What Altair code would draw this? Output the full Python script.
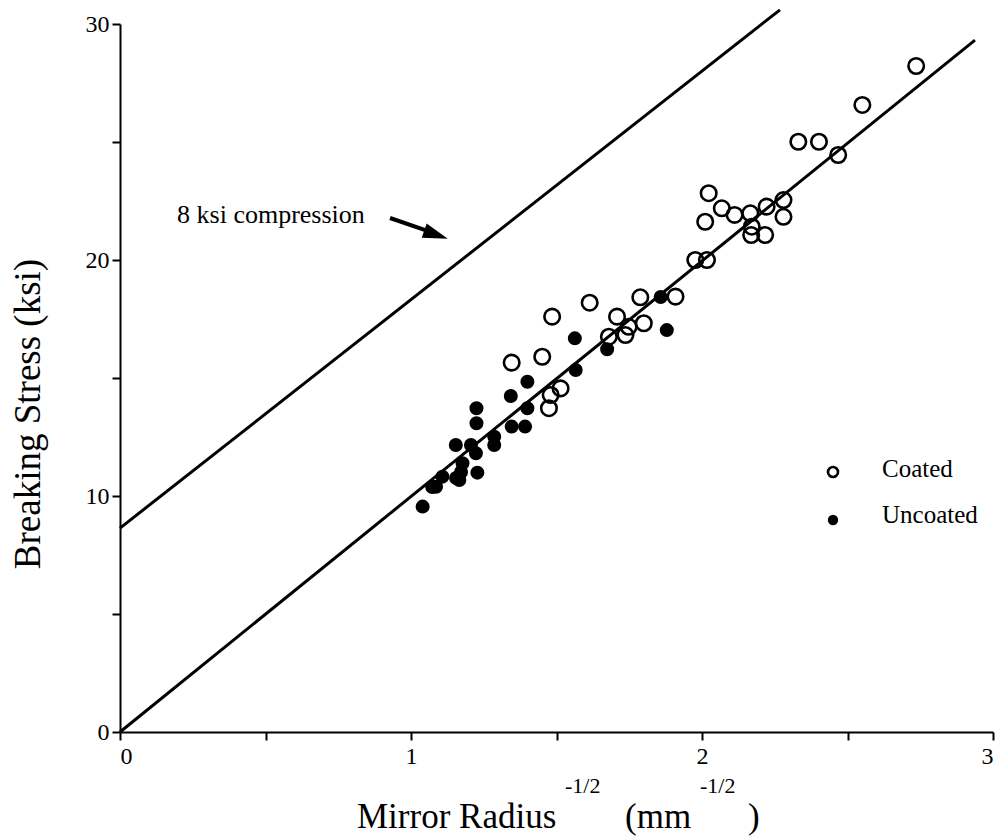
import altair as alt
import pandas as pd

# ---- data ----
coated_x = [2.736, 2.551, 2.331, 2.402, 2.468, 2.023, 2.068, 2.112, 2.166, 2.222,
            2.280, 2.280, 2.011, 2.171, 2.169, 2.217, 1.977, 2.017, 1.788, 1.909,
            1.614, 1.485, 1.708, 1.748, 1.800, 1.680, 1.737, 1.346, 1.451, 1.514,
            1.480, 1.474]
coated_y = [28.22, 26.57, 25.01, 25.01, 24.45, 22.83, 22.19, 21.91, 21.98, 22.26,
            22.54, 21.83, 21.62, 21.41, 21.06, 21.06, 20.00, 20.00, 18.42, 18.45,
            18.19, 17.60, 17.60, 17.17, 17.32, 16.75, 16.82, 15.65, 15.90, 14.56,
            14.28, 13.72]

uncoated_x = [1.563, 1.674, 1.566, 1.400, 1.343, 1.400, 1.225, 1.225, 1.346, 1.392,
              1.286, 1.286, 1.154, 1.206, 1.223, 1.228, 1.177, 1.166, 1.108, 1.086,
              1.040, 1.858, 1.879, 1.073, 1.155, 1.172]
uncoated_y = [16.68, 16.22, 15.34, 14.84, 14.24, 13.72, 13.72, 13.08, 12.94, 12.94,
              12.51, 12.16, 12.16, 12.16, 11.81, 10.99, 11.39, 10.68, 10.82, 10.39,
              9.55, 18.43, 17.03, 10.38, 10.76, 11.02]

fit_x = [0.0, 2.938]
fit_y = [0.0, 29.32]
comp_x = [0.0, 2.268]
comp_y = [8.64, 30.6]

x_ticks = [0, 0.5, 1, 1.5, 2, 2.5, 3]
y_ticks = [0, 5, 10, 15, 20, 25, 30]

series_names = ["Coated", "Uncoated"]
series_fill = ["transparent", "black"]
series_size = [240, 130]
legend_symbol_size = [100, 60]

annot_text = ["8 ksi compression"]
annot_x = [0.196]
annot_y = [21.57]
arrow_x = [0.928, 1.089]
arrow_y = [21.78, 21.10]
arrowhead_x = [1.086]
arrowhead_y = [21.07]

FONT = "Liberation Serif"

pts = pd.DataFrame({
    "x": coated_x + uncoated_x,
    "y": coated_y + uncoated_y,
    "series": ["Coated"] * len(coated_x) + ["Uncoated"] * len(uncoated_x),
})

xs = alt.Scale(domain=[0, 3], nice=False, zero=False)
ys = alt.Scale(domain=[0, 30], nice=False, zero=False)
fill_scale = alt.Scale(domain=series_names, range=series_fill)

x_axis = alt.Axis(values=x_ticks, title=None,
                  labelExpr="datum.value % 1 == 0 ? format(datum.value, 'd') : ''",
                  labelPadding=4)
y_axis = alt.Axis(values=y_ticks, title=None,
                  labelExpr="datum.value % 10 == 0 ? format(datum.value, 'd') : ''",
                  labelPadding=3)

X = alt.X("x:Q", scale=xs, axis=x_axis)
Y = alt.Y("y:Q", scale=ys, axis=y_axis)

points = alt.Chart(pts).mark_point(shape="circle", filled=True, opacity=1,
                                   strokeWidth=2.6, stroke="black").encode(
    x=X, y=Y,
    fill=alt.Fill("series:N", scale=fill_scale, legend=None),
    size=alt.Size("series:N", scale=alt.Scale(domain=series_names, range=series_size),
                  legend=None),
)

fit_line = alt.Chart(pd.DataFrame({"x": fit_x, "y": fit_y})).mark_line(
    color="black", strokeWidth=3, clip=False).encode(x=X, y=Y)
comp_line = alt.Chart(pd.DataFrame({"x": comp_x, "y": comp_y})).mark_line(
    color="black", strokeWidth=3, clip=False).encode(x=X, y=Y)

annot = alt.Chart(pd.DataFrame({"x": annot_x, "y": annot_y, "t": annot_text})).mark_text(
    align="left", baseline="alphabetic", font=FONT, fontSize=26, color="black").encode(
    x=X, y=Y, text="t:N")
shaft = alt.Chart(pd.DataFrame({"x": arrow_x, "y": arrow_y})).mark_line(
    color="black", strokeWidth=4).encode(x=X, y=Y)
head = alt.Chart(pd.DataFrame({"x": arrowhead_x, "y": arrowhead_y})).mark_point(
    shape="M-1,-0.6L1,0L-1,0.6Z", filled=True, size=625, angle=19,
    color="black", opacity=1).encode(x=X, y=Y)

# ---- legend (drawn as marks, placed in the plot's pixel frame) ----
leg = pd.DataFrame({
    "series": series_names,
    "sx": [713, 713],
    "sy": [448, 496],
    "lx": [762, 762],
    "ly": [453, 499],
    "ss": legend_symbol_size,
})
leg_sym = alt.Chart(leg).mark_point(shape="circle", filled=True, opacity=1,
                                    strokeWidth=2.6, stroke="black").encode(
    x=alt.X("sx:Q", scale=None), y=alt.Y("sy:Q", scale=None),
    fill=alt.Fill("series:N", scale=fill_scale, legend=None),
    size=alt.Size("ss:Q", scale=None, legend=None),
)
leg_txt = alt.Chart(leg).mark_text(align="left", baseline="alphabetic", font=FONT,
                                   fontSize=25, color="black").encode(
    x=alt.X("lx:Q", scale=None), y=alt.Y("ly:Q", scale=None), text="series:N")

one = pd.DataFrame({"a": [0]})


def label(text, px, py, size, angle=0, align="left"):
    return alt.Chart(one).mark_text(
        text=text, align=align, baseline="alphabetic", font=FONT, fontSize=size,
        color="black", angle=angle).encode(x=alt.value(px), y=alt.value(py))


titles = [
    label("Mirror Radius", 237, 804, 35),
    label("-1/2", 445, 769, 22),
    label("(mm", 505, 804, 35),
    label("-1/2", 580, 769, 22),
    label(")", 628, 804, 35),
    label("Breaking Stress (ksi)", -80, 390, 37, angle=270, align="center"),
]

chart = alt.layer(comp_line, fit_line, points, shaft, head, annot, leg_sym, leg_txt,
                  *titles).properties(
    width=873, height=708,
    autosize=alt.AutoSizeParams(type="none"),
    padding={"left": 120, "top": 24, "right": 7, "bottom": 106},
).configure_view(stroke=None).configure_axis(
    domainColor="black", domainWidth=2, tickColor="black", tickWidth=2, tickSize=8,
    labelFont=FONT, labelFontSize=24, labelColor="black", grid=False,
)

chart.save("out.html", embed_options={"renderer": "svg", "actions": False})
